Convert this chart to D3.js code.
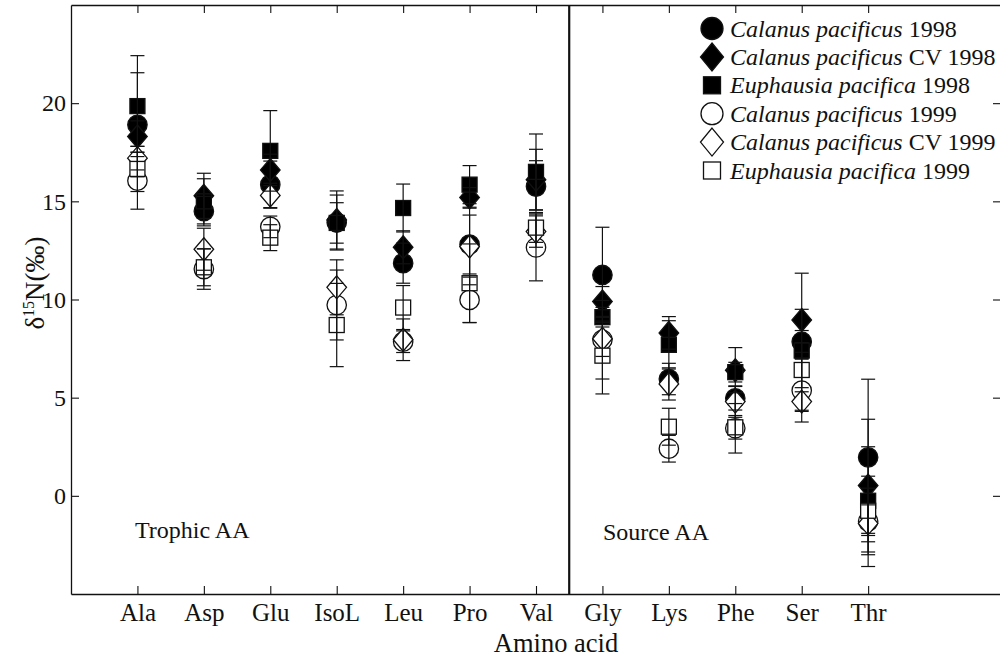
<!DOCTYPE html>
<html>
<head>
<meta charset="utf-8">
<script src="https://cdn.jsdelivr.net/npm/d3@7/dist/d3.min.js"></script>
<style>
  html, body { margin: 0; padding: 0; background: #fff; }
  svg { display: block; font-family: "Liberation Serif", "Times New Roman", serif; }
</style>
</head>
<body>
<svg id="chart" width="1000" height="657"></svg>
<script>
// ---------------- DATA ----------------
const categories = ["Ala", "Asp", "Glu", "IsoL", "Leu", "Pro", "Val", "Gly", "Lys", "Phe", "Ser", "Thr"];
const yTicks = [0, 5, 10, 15, 20];

const seriesSpecies = ["Calanus pacificus", "Calanus pacificus", "Euphausia pacifica",
                       "Calanus pacificus", "Calanus pacificus", "Euphausia pacifica"];
const seriesSuffix = ["1998", "CV 1998", "1998", "1999", "CV 1999", "1999"];
const seriesShape = ["circle", "diamond", "square", "circle", "diamond", "square"];
const seriesFilled = [true, true, true, false, false, false];

// mean d15N values
const cp98  = [18.9, 14.5, 15.85, 13.92, 11.85, 12.8, 15.75, 11.25, 5.95, 4.97, 7.85, 1.96];
const cv98  = [18.3, 15.28, 16.6, 14.05, 12.66, 15.2, 16.1, 9.9, 8.3, 6.4, 8.96, 0.52];
const ep98  = [19.85, 15.0, 17.57, 13.9, 14.66, 15.85, 16.5, 9.1, 7.69, 6.3, 7.4, -0.25];
const cp99  = [16.05, 11.55, 13.7, 9.72, 7.85, 9.98, 12.65, 7.95, 2.4, 3.44, 5.36, -1.3];
const cv99  = [17.2, 12.56, 15.3, 10.62, 7.95, 12.7, 13.46, 8.0, 5.7, 4.8, 4.8, -1.4];
const ep99  = [16.65, 11.64, 13.15, 8.7, 9.59, 10.83, 13.66, 7.14, 3.52, 3.49, 6.41, -0.76];

// standard deviations (error bars)
const cp98Err = [2.65, 0.75, 1.2, 1.4, 1.02, 1.5, 1.32, 2.43, 0.8, 0.6, 3.49, 3.98];
const cv98Err = [0.8, 1.15, 0.8, 1.48, 0.84, 0.5, 1.55, 0.76, 0.83, 1.15, 0.54, 3.38];
const ep98Err = [2.57, 1.15, 2.05, 1.03, 1.22, 0.97, 1.93, 0.5, 1.23, 0.5, 0.4, 2.75];
const cp99Err = [1.45, 1.03, 0.55, 1.78, 0.55, 1.16, 1.7, 2.0, 0.68, 1.26, 1.6, 2.3];
const cv99Err = [0.6, 1.07, 0.62, 1.4, 1.06, 1.95, 0.8, 0.9, 0.82, 0.8, 0.5, 0.94];
const ep99Err = [1.15, 0.94, 0.66, 2.12, 1.12, 2.0, 0.75, 1.95, 0.94, 0.6, 0.9, 1.15];

const seriesValues = [cp98, cv98, ep98, cp99, cv99, ep99];
const seriesErrors = [cp98Err, cv98Err, ep98Err, cp99Err, cv99Err, ep99Err];

// ---------------- LAYOUT ----------------
const svg = d3.select("#chart");
const mLeft = 71, mRight = 1001, mTop = 5, mBottom = 594;
const x = d3.scaleLinear().domain([0, 14]).range([mLeft, mRight]);
const y = d3.scaleLinear().domain([-5, 25]).range([mBottom, mTop]);
const ink = "#111";
const FS = 24;

// axes
const axisStyle = (g, fs) => {
  g.selectAll(".domain").attr("stroke", ink).attr("stroke-width", 1.3);
  g.selectAll(".tick line").attr("stroke", ink).attr("stroke-width", 1.1);
  g.selectAll("text").attr("fill", ink).attr("font-size", fs || FS)
    .attr("font-family", "'Liberation Serif', serif");
};
const catTicks = categories.map((c, i) => i + 1);

svg.append("g").attr("transform", `translate(0,${mBottom})`)
  .call(d3.axisBottom(x).tickValues(catTicks).tickFormat(d => categories[d - 1])
    .tickSizeInner(-8).tickSizeOuter(0).tickPadding(9))
  .call(axisStyle, 25);
svg.append("g").attr("transform", `translate(0,${mTop})`)
  .call(d3.axisTop(x).tickValues(catTicks).tickFormat("")
    .tickSizeInner(-8).tickSizeOuter(0))
  .call(axisStyle);
svg.append("g").attr("transform", `translate(${mLeft},0)`)
  .call(d3.axisLeft(y).tickValues(yTicks).tickFormat(d3.format("d"))
    .tickSizeInner(-8).tickSizeOuter(0).tickPadding(5))
  .call(axisStyle, 24);
svg.append("g").attr("transform", `translate(${mRight},0)`)
  .call(d3.axisRight(y).tickValues(yTicks).tickFormat("")
    .tickSizeInner(-8).tickSizeOuter(0))
  .call(axisStyle);

// divider between trophic and source amino acids
svg.append("line")
  .attr("x1", x(7.5)).attr("x2", x(7.5)).attr("y1", mTop).attr("y2", mBottom)
  .attr("stroke", ink).attr("stroke-width", 2.2);

// axis titles
svg.append("text").attr("x", 556).attr("y", 652)
  .attr("text-anchor", "middle").attr("font-size", 26.5).attr("fill", ink)
  .text("Amino acid");

const yl = svg.append("text")
  .attr("transform", `translate(44,283) rotate(-90)`)
  .attr("text-anchor", "middle").attr("font-size", 27).attr("fill", ink);
yl.append("tspan").text("δ");
yl.append("tspan").attr("font-size", 16).attr("dy", -10).text("15");
yl.append("tspan").attr("dy", 10).text("N(‰)");

// group labels
svg.append("text").attr("x", 135).attr("y", 538).attr("font-size", FS).attr("fill", ink).text("Trophic AA");
svg.append("text").attr("x", 603).attr("y", 540).attr("font-size", FS).attr("fill", ink).text("Source AA");

// ---------------- MARKERS ----------------
function drawMarker(g, shape, filled, cx, cy, sz) {
  const fill = filled ? "#000" : "#fff";
  const common = el => el.attr("fill", fill).attr("stroke", ink).attr("stroke-width", 1.3);
  if (shape === "circle") {
    common(g.append("circle").attr("cx", cx).attr("cy", cy).attr("r", sz.r));
  } else if (shape === "square") {
    common(g.append("rect").attr("x", cx - sz.s / 2).attr("y", cy - sz.s / 2)
      .attr("width", sz.s).attr("height", sz.s));
  } else {
    const p = d3.path();
    p.moveTo(cx, cy - sz.dh); p.lineTo(cx + sz.dw, cy); p.lineTo(cx, cy + sz.dh); p.lineTo(cx - sz.dw, cy); p.closePath();
    common(g.append("path").attr("d", p.toString()));
  }
}
const dataSize = { r: 9.7, s: 15, dw: 9.8, dh: 11.5 };
const gMarks = svg.append("g");
seriesValues.forEach((vals, s) => {
  vals.forEach((v, i) => {
    drawMarker(gMarks, seriesShape[s], seriesFilled[s], x(i + 1), y(v), dataSize);
  });
});

// error bars drawn on top
const gErr = svg.append("g").attr("stroke", ink).attr("stroke-width", 1.2);
const capW = 7;
seriesValues.forEach((vals, s) => {
  vals.forEach((v, i) => {
    const e = seriesErrors[s][i];
    const cx = x(i + 1);
    gErr.append("line").attr("x1", cx).attr("x2", cx).attr("y1", y(v - e)).attr("y2", y(v + e));
    gErr.append("line").attr("x1", cx - capW).attr("x2", cx + capW).attr("y1", y(v + e)).attr("y2", y(v + e));
    gErr.append("line").attr("x1", cx - capW).attr("x2", cx + capW).attr("y1", y(v - e)).attr("y2", y(v - e));
  });
});

// ---------------- LEGEND ----------------
const legSize = { r: 11, s: 17, dw: 11.5, dh: 14 };
const legX = 712, legY0 = 28.5, legStep = 28.4;
const gLeg = svg.append("g");
seriesSuffix.forEach((suf, s) => {
  const cy = legY0 + s * legStep;
  drawMarker(gLeg, seriesShape[s], seriesFilled[s], legX, cy, legSize);
  const t = gLeg.append("text").attr("x", 730).attr("y", cy + 8).attr("font-size", FS).attr("fill", ink);
  t.append("tspan").attr("font-style", "italic").text(seriesSpecies[s]);
  t.append("tspan").text(" " + suf);
});
</script>
</body>
</html>
